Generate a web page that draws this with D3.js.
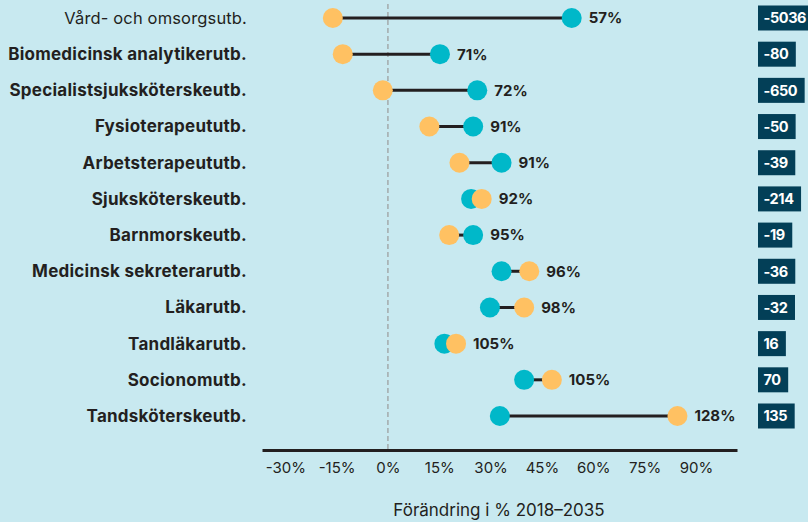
<!DOCTYPE html>
<html>
<head>
<meta charset="utf-8">
<script src="https://cdn.jsdelivr.net/npm/d3@7"></script>
<style>
  html, body { margin: 0; padding: 0; background: #c8e9f0; }
  svg { display: block; font-family: "Inter", "Lato", sans-serif; }
</style>
</head>
<body>
<script>
// Utbildningar (rader uppifrån och ned)
var categories = [
  "Vård- och omsorgsutb.",
  "Biomedicinsk analytikerutb.",
  "Specialistsjuksköterskeutb.",
  "Fysioterapeututb.",
  "Arbetsterapeututb.",
  "Sjuksköterskeutb.",
  "Barnmorskeutb.",
  "Medicinsk sekreterarutb.",
  "Läkarutb.",
  "Tandläkarutb.",
  "Socionomutb.",
  "Tandsköterskeutb."
];

// Förändring i % 2018–2035, turkos serie
var tealValues = [53.7, 15.2, 26.1, 24.9, 33.2, 24.3, 24.9, 33.2, 29.8, 16.5, 39.8, 32.7];
// Förändring i % 2018–2035, orange serie
var orangeValues = [-16.1, -13.2, -1.5, 12.1, 20.9, 27.4, 17.9, 41.3, 39.8, 19.9, 47.9, 84.6];

// Procenttal till höger om punkterna
var pctLabels = ["57%", "71%", "72%", "91%", "91%", "92%", "95%", "96%", "98%", "105%", "105%", "128%"];

// Värden i de mörka rutorna
var boxLabels = ["-5036", "-80", "-650", "-50", "-39", "-214", "-19", "-36", "-32", "16", "70", "135"];

var xTicks = [-30, -15, 0, 15, 30, 45, 60, 75, 90];

var svgWidth = 808;
var svgHeight = 522;

var colTeal = "#00b8c9";
var colOrange = "#ffc162";
var colDark = "#231f20";
var colBox = "#033f57";

var svg = d3.select("body")
  .append("svg")
    .attr("width", svgWidth)
    .attr("height", svgHeight);

var x = d3.scaleLinear().domain([-36.8, 102]).range([262, 737]);
var y = d3.scalePoint().domain(categories).range([18, 416]);

var axisY = 450;

// nollinje (streckad)
svg.append("line")
  .attr("x1", x(0)).attr("x2", x(0))
  .attr("y1", 4).attr("y2", axisY)
  .attr("stroke", "#9a9a9a")
  .attr("stroke-width", 1.2)
  .attr("stroke-dasharray", "5,3");

// x-axel
var xAxis = d3.axisBottom(x)
  .tickValues(xTicks)
  .tickSize(0)
  .tickPadding(12)
  .tickFormat(function(d) { return d + "%"; });

var gx = svg.append("g")
  .attr("transform", "translate(0," + axisY + ")")
  .call(xAxis);

gx.select(".domain")
  .attr("stroke", colDark)
  .attr("stroke-width", 3);

gx.selectAll("text")
  .attr("fill", colDark)
  .style("font-size", "15px")
  .style("font-family", "Inter, sans-serif");

svg.append("text")
  .attr("x", 499)
  .attr("y", 516)
  .attr("text-anchor", "middle")
  .attr("fill", colDark)
  .style("font-size", "17px")
  .text("Förändring i % 2018–2035");

// radetiketter
svg.selectAll(".cat")
  .data(categories)
  .enter()
  .append("text")
    .attr("class", "cat")
    .attr("x", 247)
    .attr("y", function(d) { return y(d); })
    .attr("dy", "0.35em")
    .attr("text-anchor", "end")
    .attr("fill", colDark)
    .style("font-size", function(d, i) { return i === 0 ? "16.5px" : "17px"; })
    .style("font-weight", function(d, i) { return i === 0 ? "normal" : "bold"; })
    .style("letter-spacing", function(d, i) { return i === 0 ? "0.15px" : "0.25px"; })
    .text(function(d) { return d; });

// förbindelselinjer
svg.selectAll(".link")
  .data(categories)
  .enter()
  .append("line")
    .attr("class", "link")
    .attr("x1", function(d, i) { return x(tealValues[i]); })
    .attr("x2", function(d, i) { return x(orangeValues[i]); })
    .attr("y1", function(d) { return y(d); })
    .attr("y2", function(d) { return y(d); })
    .attr("stroke", colDark)
    .attr("stroke-width", 3);

// punkter: rita den högra sist så den hamnar överst
categories.forEach(function(cat, i) {
  var pts = [
    { v: tealValues[i], c: colTeal },
    { v: orangeValues[i], c: colOrange }
  ];
  pts.sort(function(a, b) { return a.v - b.v; });
  pts.forEach(function(p) {
    svg.append("circle")
      .attr("cx", x(p.v))
      .attr("cy", y(cat))
      .attr("r", 10)
      .attr("fill", p.c);
  });
});

// procentetiketter
svg.selectAll(".pct")
  .data(categories)
  .enter()
  .append("text")
    .attr("class", "pct")
    .attr("x", function(d, i) { return x(Math.max(tealValues[i], orangeValues[i])) + 17; })
    .attr("y", function(d) { return y(d); })
    .attr("dy", "0.36em")
    .attr("fill", colDark)
    .style("font-size", "15px")
    .style("font-weight", "bold")
    .text(function(d, i) { return pctLabels[i]; });

// mörka rutor till höger
var boxes = svg.selectAll(".box")
  .data(categories)
  .enter()
  .append("g")
    .attr("class", "box")
    .attr("transform", function(d) { return "translate(758," + y(d) + ")"; });

boxes.append("rect")
  .attr("y", -12.5)
  .attr("height", 25)
  .attr("fill", colBox);

boxes.append("text")
  .attr("x", 5.5)
  .attr("dy", "0.36em")
  .attr("fill", "#ffffff")
  .style("font-size", "14.5px")
  .style("font-weight", "bold")
  .style("letter-spacing", "-0.4px")
  .text(function(d, i) { return boxLabels[i]; });

boxes.each(function() {
  var g = d3.select(this);
  var w = g.select("text").node().getComputedTextLength();
  g.select("rect").attr("width", Math.min(w + 13, 50));
});
</script>
</body>
</html>
